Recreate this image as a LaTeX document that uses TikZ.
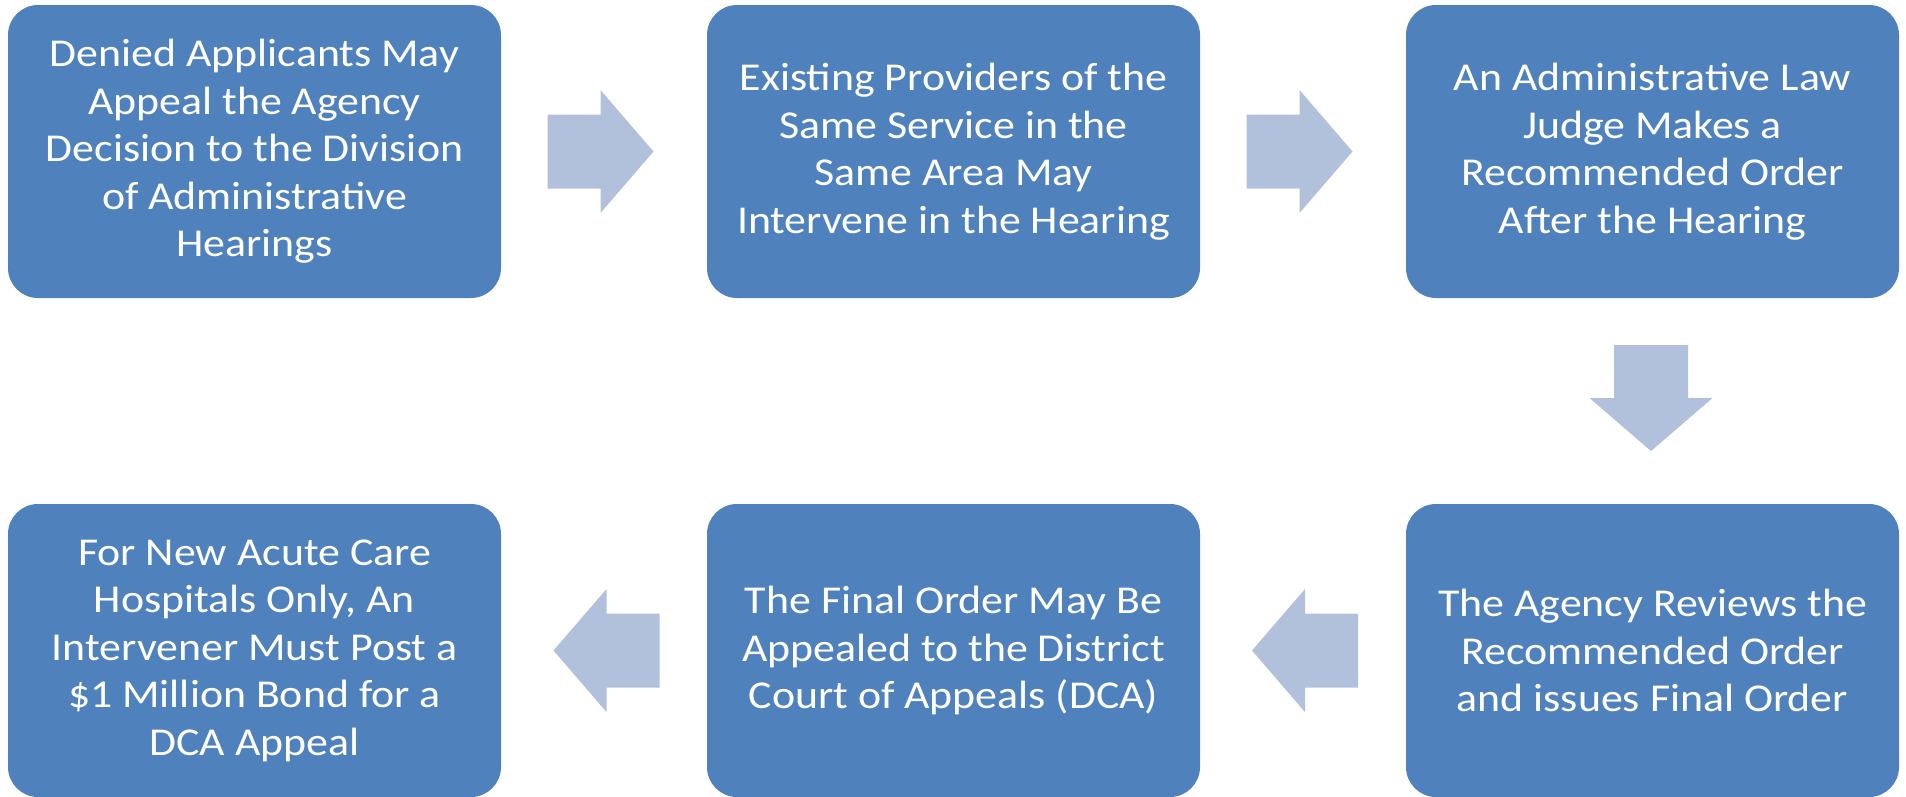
\documentclass[tikz,border=0pt]{standalone}
\usepackage{fontspec}
\setmainfont{Carlito}[FakeStretch=1.11]
\usetikzlibrary{calc}
\definecolor{boxblue}{HTML}{4F81BD}
\definecolor{arrowblue}{HTML}{B2C1DB}
\tikzset{
  stepbox/.style={fill=boxblue, draw=none, rounded corners=30pt,
    minimum width=493pt, minimum height=293pt, inner sep=0pt,
    text=white, align=center, font=\fontsize{39.5}{47.5}\selectfont}
}
% block arrow pointing along +x, centred on the given coordinate
\newcommand{\blockarrow}[2]{%
  \fill[arrowblue, shift={(#1)}, rotate=#2]
    (-53pt,-37pt) -- (0pt,-37pt) -- (0pt,-61.5pt) -- (53pt,0pt)
    -- (0pt,61.5pt) -- (0pt,37pt) -- (-53pt,37pt) -- cycle;}
\begin{document}
\begin{tikzpicture}[x=1pt, y=-1pt]
\useasboundingbox (0,0) rectangle (1906,796);

\node[stepbox] (b1) at (254.5,151.5) {Denied Applicants May\\Appeal the Agency\\Decision to the Division\\of Administrative\\Hearings};
\node[stepbox] (b2) at (953.5,151.5) {Existing Providers of the\\Same Service in the\\Same Area May\\Intervene in the Hearing};
\node[stepbox] (b3) at (1652.5,151.5) {An Administrative Law\\Judge Makes a\\Recommended Order\\After the Hearing};
\node[stepbox] (b6) at (1652.5,650.5) {The Agency Reviews the\\Recommended Order\\and issues Final Order};
\node[stepbox] (b5) at (953.5,650.5) {The Final Order May Be\\Appealed to the District\\Court of Appeals (DCA)};
\node[stepbox] (b4) at (254.5,650.5) {For New Acute Care\\Hospitals Only, An\\Intervener Must Post a\\\$1 Million Bond for a\\DCA Appeal};

% connector positions, set slightly back toward the source box
\coordinate (a12) at ($(b1.east)!0.5!(b2.west) + (-3.5,0)$);
\coordinate (a23) at ($(b2.east)!0.5!(b3.west) + (-3.5,0)$);
\coordinate (a36) at ($(b3.south)!0.5!(b6.north) + (-1.5,-3)$);
\coordinate (a65) at ($(b6.west)!0.5!(b5.east) + (2,0)$);
\coordinate (a54) at ($(b5.west)!0.5!(b4.east) + (2.5,0)$);

\blockarrow{a12}{0}
\blockarrow{a23}{0}
\blockarrow{a36}{-90}
\blockarrow{a65}{180}
\blockarrow{a54}{180}
\end{tikzpicture}
\end{document}
